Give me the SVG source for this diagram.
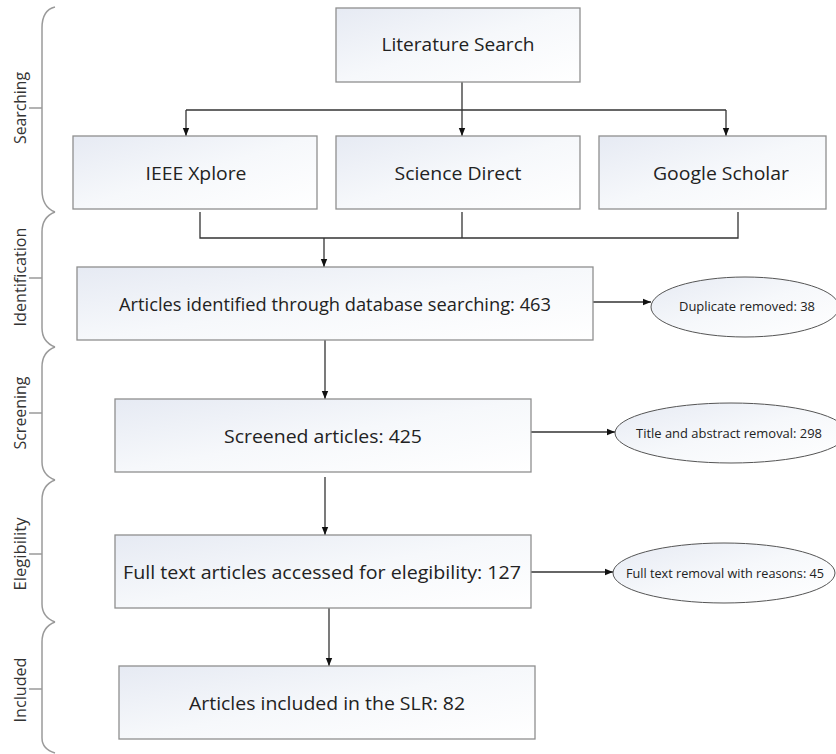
<svg xmlns="http://www.w3.org/2000/svg" width="836" height="754" viewBox="0 0 836 754">
<style>
.box{stroke:#8f8f8f;stroke-width:1.3;fill:url(#g)}
.ell{stroke:#555;stroke-width:1;fill:url(#g)}
.t{font-family:"Open Sans","Noto Sans",sans-serif;font-size:19px;fill:#222;text-anchor:middle;dominant-baseline:central}
.s{font-family:"Open Sans","Noto Sans",sans-serif;font-size:13.5px;fill:#222;text-anchor:middle;dominant-baseline:central}
.lab{font-family:"Open Sans","Noto Sans",sans-serif;font-size:16px;fill:#333;text-anchor:middle;dominant-baseline:central}
.c{stroke:#333;stroke-width:1.3;fill:none}
.br{stroke:#9a9a9a;stroke-width:1.5;fill:none}
</style>
<defs>
<linearGradient id="g" x1="0" y1="0" x2="1" y2="1">
<stop offset="0" stop-color="#e6eaf3"/>
<stop offset="0.5" stop-color="#f6f8fb"/>
<stop offset="1" stop-color="#ffffff"/>
</linearGradient>
<marker id="a" viewBox="0 0 10 10" refX="10" refY="5" markerWidth="8" markerHeight="8" markerUnits="userSpaceOnUse" orient="auto">
<path d="M0,1 L10,5 L0,9 Z" fill="#111"/>
</marker>
</defs>

<g id="phases">
<path class="br" d="M55,7 Q42,10 42,28 L42,190 Q42,207 55,212"/>
<line class="br" x1="29" y1="108" x2="42" y2="108"/>
<text class="lab" transform="translate(20,108) rotate(-90)" textLength="72" lengthAdjust="spacingAndGlyphs">Searching</text>
<path class="br" d="M55,212 Q42,217 42,232 L42,328 Q42,342 55,347"/>
<line class="br" x1="29" y1="278" x2="42" y2="278"/>
<text class="lab" transform="translate(20,277) rotate(-90)" textLength="99" lengthAdjust="spacingAndGlyphs">Identification</text>
<path class="br" d="M55,347 Q42,352 42,367 L42,462 Q42,475 55,480"/>
<line class="br" x1="29" y1="413" x2="42" y2="413"/>
<text class="lab" transform="translate(20,413) rotate(-90)" textLength="73" lengthAdjust="spacingAndGlyphs">Screening</text>
<path class="br" d="M55,480 Q42,485 42,500 L42,604 Q42,617 55,622"/>
<line class="br" x1="29" y1="554" x2="42" y2="554"/>
<text class="lab" transform="translate(20,554) rotate(-90)" textLength="73" lengthAdjust="spacingAndGlyphs">Elegibility</text>
<path class="br" d="M55,622 Q42,627 42,642 L42,738 Q42,749 55,753"/>
<line class="br" x1="29" y1="689" x2="42" y2="689"/>
<text class="lab" transform="translate(20,690) rotate(-90)" textLength="65" lengthAdjust="spacingAndGlyphs">Included</text>
</g>

<g id="connectors">
<path class="c" d="M462,82 V110"/>
<path class="c" d="M186,110 H726"/>
<path class="c" d="M186,110 V136" marker-end="url(#a)"/>
<path class="c" d="M462,110 V136" marker-end="url(#a)"/>
<path class="c" d="M726,110 V136" marker-end="url(#a)"/>
<path class="c" d="M200,212 V238 H738 V212"/>
<path class="c" d="M462,212 V238"/>
<path class="c" d="M324,238 V267" marker-end="url(#a)"/>
<path class="c" d="M593,302 H651" marker-end="url(#a)"/>
<path class="c" d="M325,340 V399" marker-end="url(#a)"/>
<path class="c" d="M531,432 H615" marker-end="url(#a)"/>
<path class="c" d="M325,477 V535" marker-end="url(#a)"/>
<path class="c" d="M531,572 H613" marker-end="url(#a)"/>
<path class="c" d="M329,608 V666" marker-end="url(#a)"/>
</g>

<g id="literature-search">
<rect class="box" x="336" y="8" width="244" height="74"/>
<text class="t" x="458" y="44" textLength="153" lengthAdjust="spacingAndGlyphs">Literature Search</text>
</g>
<g id="ieee-xplore">
<rect class="box" x="73" y="136" width="244" height="73"/>
<text class="t" x="196" y="173" textLength="101" lengthAdjust="spacingAndGlyphs">IEEE Xplore</text>
</g>
<g id="science-direct">
<rect class="box" x="336" y="136" width="244" height="73"/>
<text class="t" x="458" y="173" textLength="127" lengthAdjust="spacingAndGlyphs">Science Direct</text>
</g>
<g id="google-scholar">
<rect class="box" x="599" y="136" width="227" height="73"/>
<text class="t" x="721" y="173" textLength="136" lengthAdjust="spacingAndGlyphs">Google Scholar</text>
</g>
<g id="identification">
<rect class="box" x="77" y="267" width="516" height="73"/>
<text class="t" x="335" y="304" textLength="432" lengthAdjust="spacingAndGlyphs">Articles identified through database searching: 463</text>
</g>
<g id="duplicates">
<ellipse class="ell" cx="745" cy="307" rx="94" ry="30"/>
<text class="s" x="747" y="306" textLength="136" lengthAdjust="spacingAndGlyphs">Duplicate removed: 38</text>
</g>
<g id="screened">
<rect class="box" x="115" y="399" width="416" height="73"/>
<text class="t" x="323" y="436" textLength="198" lengthAdjust="spacingAndGlyphs">Screened articles: 425</text>
</g>
<g id="title-abstract">
<ellipse class="ell" cx="731" cy="433" rx="116" ry="30"/>
<text class="s" x="729" y="433" textLength="186" lengthAdjust="spacingAndGlyphs">Title and abstract removal: 298</text>
</g>
<g id="full-text">
<rect class="box" x="115" y="535" width="416" height="73"/>
<text class="t" x="322" y="572" textLength="398" lengthAdjust="spacingAndGlyphs">Full text articles accessed for elegibility: 127</text>
</g>
<g id="full-text-removal">
<ellipse class="ell" cx="724" cy="573" rx="111" ry="30"/>
<text class="s" x="725" y="573" textLength="198" lengthAdjust="spacingAndGlyphs">Full text removal with reasons: 45</text>
</g>
<g id="included">
<rect class="box" x="119" y="666" width="416" height="73"/>
<text class="t" x="327" y="703" textLength="276" lengthAdjust="spacingAndGlyphs">Articles included in the SLR: 82</text>
</g>
</svg>
